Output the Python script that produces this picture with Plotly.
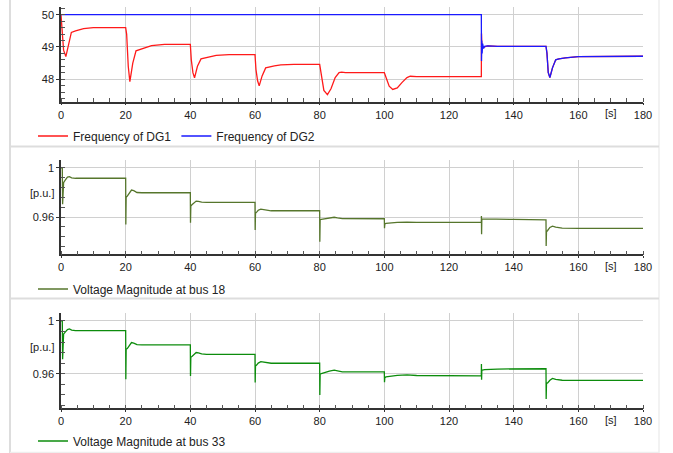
import plotly.graph_objects as go

# ---------------- data ----------------
t_dg1 = [0, 0.3, 0.8, 1.5, 2.3, 3.2, 4.5, 5.5, 7, 10, 20,
         20.3, 20.8, 21.3, 22.2, 23.2, 24.5, 26, 28, 32, 40,
         40.3, 40.8, 41.3, 42.2, 43.3, 44.5, 46, 48, 52, 60,
         60.3, 60.8, 61.3, 62.2, 63.3, 64.5, 66, 68, 72, 80,
         80.5, 81.3, 82.4, 83.5, 84.8, 86, 86.8, 88, 100,
         100.5, 101.5, 102.6, 104, 105.5, 107, 108, 110, 130,
         130.05, 130.15, 130.3, 130.6, 131, 132, 135, 150,
         150.3, 150.7, 151.2, 152, 153, 154, 156, 160, 180]
f_dg1 = [50, 49.6, 48.9, 48.70, 49.1, 49.45, 49.5, 49.52, 49.57, 49.6, 49.6,
         49.4, 48.4, 47.92, 48.5, 48.88, 48.93, 48.98, 49.04, 49.08, 49.08,
         48.6, 48.2, 48.04, 48.4, 48.63, 48.66, 48.70, 48.74, 48.76, 48.76,
         48.3, 47.95, 47.79, 48.1, 48.35, 48.38, 48.41, 48.44, 48.46, 48.46,
         48.1, 47.65, 47.52, 47.7, 48.05, 48.2, 48.22, 48.2, 48.2,
         48.05, 47.78, 47.68, 47.73, 47.9, 48.05, 48.09, 48.08, 48.08,
         49.42, 49.1, 49.0, 48.98, 49.0, 49.03, 49.02, 49.02,
         48.8, 48.2, 48.05, 48.35, 48.6, 48.63, 48.66, 48.70, 48.71]

t_dg2 = [0, 130, 130.05, 130.15, 130.25, 130.4, 130.7, 131, 132, 135, 150,
         150.3, 150.7, 151.2, 152, 153, 154, 156, 160, 180]
f_dg2 = [50, 50, 48.56, 49.2, 48.8, 49.1, 48.95, 49.02, 49.03, 49.02, 49.02,
         48.8, 48.2, 48.05, 48.35, 48.6, 48.63, 48.66, 48.70, 48.71]

t_v = [0, 0.4, 0.5, 0.6, 0.8, 1.3, 2.0, 2.6, 3.3, 4.5, 20,
       20.05, 20.15, 20.5, 21, 21.8, 22.5, 23.5, 25, 40,
       40.05, 40.15, 40.5, 41, 41.8, 42.5, 43.5, 45, 60,
       60.05, 60.15, 60.5, 61, 61.8, 62.5, 63.5, 65, 80,
       80.05, 80.15, 80.5, 81.5, 83, 84.5, 85.5, 87, 100,
       100.05, 100.15, 100.5, 102, 104, 107, 110, 130,
       130.03, 130.08, 130.15, 130.3, 131, 135, 140, 150,
       150.05, 150.15, 150.5, 151.2, 152, 153, 155, 160, 180]
v_bus18 = [1.0, 1.0, 0.9704, 0.987, 0.988, 0.990, 0.9925, 0.9929, 0.992, 0.9916, 0.9916,
           0.9540, 0.976, 0.977, 0.979, 0.982, 0.9815, 0.980, 0.9798, 0.9798,
           0.9553, 0.969, 0.970, 0.9715, 0.973, 0.9728, 0.9722, 0.972, 0.972,
           0.9494, 0.963, 0.964, 0.9655, 0.9665, 0.9662, 0.9655, 0.9651, 0.9651,
           0.9398, 0.9578, 0.958, 0.9585, 0.9592, 0.9598, 0.9593, 0.9587, 0.9586,
           0.9508, 0.9543, 0.9548, 0.9552, 0.9556, 0.9559, 0.9557, 0.9556,
           0.9608, 0.9459, 0.958, 0.9585, 0.9585, 0.9582, 0.958, 0.9576,
           0.9363, 0.948, 0.949, 0.9515, 0.9526, 0.9518, 0.951, 0.9508, 0.9508]
v_bus33 = [1.0, 1.0, 0.9709, 0.9894, 0.990, 0.9915, 0.9935, 0.9939, 0.993, 0.9926, 0.9926,
           0.9557, 0.9785, 0.979, 0.981, 0.9836, 0.9832, 0.982, 0.9818, 0.9818,
           0.9583, 0.9725, 0.973, 0.9745, 0.976, 0.9757, 0.975, 0.9747, 0.9747,
           0.9532, 0.9658, 0.9665, 0.968, 0.9691, 0.9688, 0.968, 0.9679, 0.9679,
           0.9438, 0.9598, 0.960, 0.961, 0.962, 0.9626, 0.962, 0.9614, 0.9613,
           0.9535, 0.9570, 0.9575, 0.958, 0.9587, 0.9590, 0.9586, 0.9583,
           0.9674, 0.9553, 0.9624, 0.9626, 0.963, 0.9635, 0.9637, 0.9637,
           0.9407, 0.9526, 0.953, 0.955, 0.9564, 0.9556, 0.955, 0.9549, 0.9549]

x_ticks = [0, 20, 40, 60, 80, 100, 120, 140, 160, 180]
f_ticks = [48, 49, 50]
v_ticks = [0.96, 1.0]
v_tick_text = ["0.96", "1"]

# ---------------- layout helpers ----------------
W, H = 673, 453
def fx(p):
    return p / W
def fy(p):
    return 1 - p / H

FONT = "Liberation Sans, Arial, sans-serif"
TXT = "#222222"
AX = "#333333"
GRID = "#d0d0d0"

fig = go.Figure()
fig.add_trace(go.Scatter(x=t_dg1, y=f_dg1, mode="lines", name="Frequency of DG1",
                         line=dict(color="#ff1a1a", width=1.3), xaxis="x", yaxis="y", legend="legend"))
fig.add_trace(go.Scatter(x=t_dg2, y=f_dg2, mode="lines", name="Frequency of DG2",
                         line=dict(color="#1a1aff", width=1.3), xaxis="x", yaxis="y", legend="legend"))
fig.add_trace(go.Scatter(x=t_v, y=v_bus18, mode="lines", name="Voltage Magnitude at bus 18",
                         line=dict(color="#56762c", width=1.3), xaxis="x2", yaxis="y2", legend="legend2"))
fig.add_trace(go.Scatter(x=t_v, y=v_bus33, mode="lines", name="Voltage Magnitude at bus 33",
                         line=dict(color="#0c8c0c", width=1.3), xaxis="x3", yaxis="y3", legend="legend3"))

xdom = [fx(61), fx(643)]
panels = [
    # (top px, bottom px, yrange, ticks, ticktext, minor dtick, label y px, legend y px)
    (7.3, 101.7, [47.3, 50.23], f_ticks, [str(v) for v in f_ticks], 0.2, 113.3, 136),
    (160, 254.3, [0.9296, 1.0065], v_ticks, v_tick_text, 0.008, 265.8, 289),
    (313.3, 408.3, [0.9337, 1.0058], v_ticks, v_tick_text, 0.008, 420, 441),
]

layout = dict(
    width=W, height=H, margin=dict(l=0, r=0, t=0, b=0, autoexpand=False),
    paper_bgcolor="white", plot_bgcolor="white",
    font=dict(family=FONT, size=11, color=TXT),
    showlegend=True,
)
annotations = []
for i, (top, bot, yr, tv, tt, mdt, lab_y, leg_y) in enumerate(panels):
    sfx = "" if i == 0 else str(i + 1)
    layout["xaxis" + sfx] = dict(
        domain=xdom, range=[0, 180], anchor="y" + sfx, automargin=False,
        tickvals=x_ticks, showgrid=True, gridcolor=GRID, gridwidth=1,
        showline=True, linecolor=AX, linewidth=1.5,
        ticks="outside", ticklen=2, tickcolor=AX,
        tickfont=dict(size=11, color=TXT), zeroline=False,
        minor=dict(dtick=5, ticks="inside", ticklen=4, tickcolor="#555", showgrid=False),
    )
    layout["yaxis" + sfx] = dict(
        domain=[fy(bot), fy(top)], range=yr, anchor="x" + sfx, automargin=False,
        tickvals=tv, ticktext=tt, showgrid=True, gridcolor=GRID, gridwidth=1,
        showline=True, linecolor=AX, linewidth=1.5,
        ticks="outside", ticklen=3, tickcolor=AX,
        tickfont=dict(size=11, color=TXT), zeroline=False,
        minor=dict(dtick=mdt, tick0=tv[0], ticks="inside", ticklen=4, tickcolor="#555", showgrid=False),
    )
    layout["legend" + sfx] = dict(
        x=fx(33), y=fy(leg_y), xanchor="left", yanchor="middle",
        orientation="h", font=dict(size=12, color=TXT), bgcolor="rgba(0,0,0,0)",
        itemwidth=30,
    )
    annotations.append(dict(
        x=170, xref="x" + sfx, y=fy(lab_y), yref="paper", text="[s]",
        showarrow=False, xanchor="center", yanchor="middle",
        font=dict(size=11, color=TXT),
    ))
    if i > 0:
        annotations.append(dict(
            x=fx(55), xref="paper", y=0.98, yref="y" + sfx, text="[p.u.]",
            showarrow=False, xanchor="right", yanchor="middle",
            font=dict(size=11, color=TXT), borderpad=0,
        ))

shapes = [
    dict(type="line", xref="paper", yref="paper", x0=fx(10), x1=fx(10), y0=0, y1=1,
         line=dict(color="#dddddd", width=2)),
    dict(type="line", xref="paper", yref="paper", x0=fx(659), x1=fx(659), y0=0, y1=1,
         line=dict(color="#eeeeee", width=1.5)),
    dict(type="line", xref="paper", yref="paper", x0=fx(10), x1=fx(659), y0=fy(146.5), y1=fy(146.5),
         line=dict(color="#dddddd", width=2)),
    dict(type="line", xref="paper", yref="paper", x0=fx(10), x1=fx(659), y0=fy(298.5), y1=fy(298.5),
         line=dict(color="#dddddd", width=2)),
    dict(type="line", xref="paper", yref="paper", x0=fx(10), x1=fx(659), y0=fy(452.5), y1=fy(452.5),
         line=dict(color="#eeeeee", width=1.5)),
]
layout["annotations"] = annotations
layout["shapes"] = shapes
fig.update_layout(**layout)

fig.write_html("out.html", config={"displayModeBar": False},
               post_script="document.body.style.margin='0';document.body.style.overflow='hidden';")
